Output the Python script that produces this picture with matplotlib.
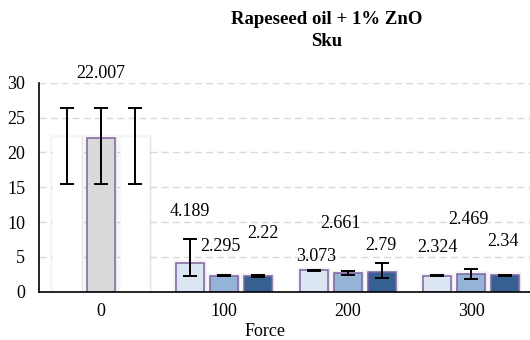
import matplotlib
matplotlib.use("Agg")
import matplotlib.pyplot as plt
import matplotlib.patheffects as pe
import numpy as np

plt.rcParams['font.family'] = ['Liberation Serif', 'DejaVu Serif']

# Data
forces = ["0", "100", "200", "300"]
series_a = [22.007, 4.189, 3.073, 2.324]
series_b = [22.007, 2.295, 2.661, 2.469]
series_c = [22.007, 2.22, 2.79, 2.34]
err_a_low = [6.5, 1.95, 0.08, 0.08]
err_a_high = [4.35, 3.35, 0.08, 0.08]
err_b_low = [6.5, 0.1, 0.33, 0.66]
err_b_high = [4.35, 0.1, 0.33, 0.77]
err_c_low = [6.5, 0.15, 0.79, 0.1]
err_c_high = [4.35, 0.15, 1.26, 0.1]

# Heights at which the value labels are placed
label_y_a = [None, 11.5, 5.0, 6.35]
label_y_b = [31.3, 6.5, 9.75, 10.4]
label_y_c = [None, 8.4, 6.7, 7.15]
label_dx_a = [0, 0, 0.02, 0]
label_dx_b = [0, -0.03, -0.06, -0.02]
label_dx_c = [0, 0.04, -0.01, -0.02]

colors = ["#dce6f2", "#95b3d7", "#376092"]
edge = "#8064a2"
fs = 13

fig = plt.figure(figsize=(5.3, 3.4), dpi=100)
ax = fig.add_axes([39 / 530, 48.3 / 340, 494 / 530, 209 / 340])

x = np.arange(len(forces))
pitch = 0.275
width = 0.227

shadow = [pe.Stroke(linewidth=4, foreground="#000000", alpha=0.04),
          pe.Stroke(linewidth=2.2, foreground="#000000", alpha=0.06),
          pe.Normal()]

series = [(series_a, err_a_low, err_a_high, label_y_a, label_dx_a),
          (series_b, err_b_low, err_b_high, label_y_b, label_dx_b),
          (series_c, err_c_low, err_c_high, label_y_c, label_dx_c)]

for i, (vals, elo, ehi, ly, ldx) in enumerate(series):
    xs = x + (i - 1) * pitch
    for j in range(len(forces)):
        if j == 0:
            fc = "#ffffff" if i != 1 else "#d9d9d9"
            ec = "#ffffff" if i != 1 else edge
        else:
            fc = colors[i]
            ec = edge
        bar = ax.bar(xs[j], vals[j], width=width, color=fc, edgecolor=ec,
                     linewidth=1.1, zorder=2)
        for p in bar:
            p.set_path_effects(shadow)
        ax.errorbar(xs[j], vals[j], yerr=[[elo[j]], [ehi[j]]], fmt="none",
                    ecolor="black", elinewidth=1.4, capsize=5, capthick=1.4,
                    zorder=4)
        if ly[j] is not None:
            ax.text(xs[j] + ldx[j], ly[j], f"{vals[j]:g}", ha="center",
                    va="center", fontsize=fs, clip_on=False, zorder=5)

ax.set_xlim(-0.5, 3.5)
ax.set_ylim(0, 30)
ax.set_yticks(range(0, 31, 5))
ax.set_xticks(x)
ax.set_xticklabels(forces)
ax.tick_params(axis="both", length=0, labelsize=fs)
ax.tick_params(axis="y", pad=10)
ax.tick_params(axis="x", pad=8)

ax.yaxis.grid(True, color="#d9d9d9", linestyle=(0, (5, 3)), linewidth=1.0)
ax.set_axisbelow(True)
for s in ["top", "right"]:
    ax.spines[s].set_visible(False)
ax.spines["left"].set_linewidth(1.2)
ax.spines["bottom"].set_linewidth(1.2)

fig.text(327 / 530, 1 - 20 / 340, "Rapeseed oil + 1% ZnO", ha="center",
         va="center", fontsize=13.5, fontweight="bold")
fig.text(327 / 530, 1 - 42 / 340, "Sku", ha="center", va="center",
         fontsize=13.5, fontweight="bold")
fig.text(265 / 530, 1 - 332 / 340, "Force", ha="center", va="center",
         fontsize=fs)

fig.savefig("out.png", dpi=100)
